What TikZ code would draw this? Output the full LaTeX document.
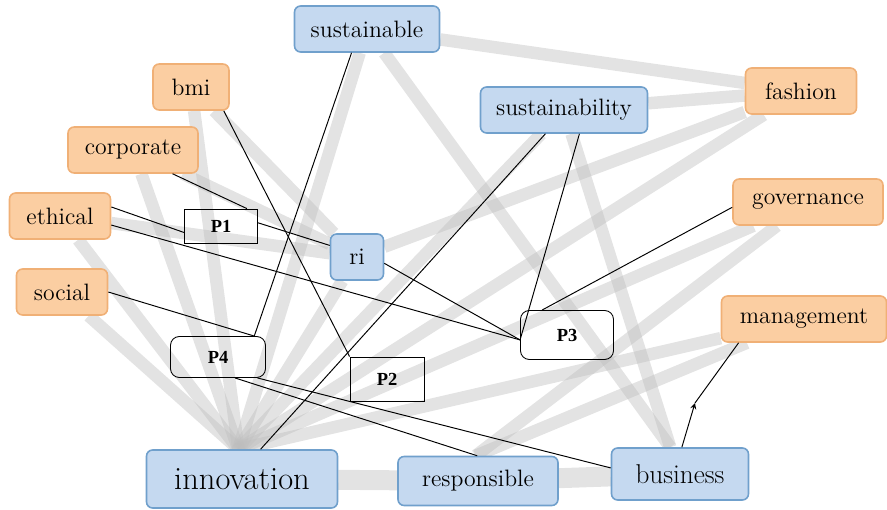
\documentclass[tikz,border=0pt]{standalone}
\usepackage{tikz}
\usetikzlibrary{arrows,positioning,backgrounds}
\usepackage{xcolor}
\usepackage{fontspec}
\newfontfamily\propfont{Liberation Serif}
\definecolor{kwblue}{RGB}{197,217,240}
\definecolor{kwblueline}{RGB}{112,160,204}
\definecolor{kworange}{RGB}{251,206,162}
\definecolor{kworangeline}{RGB}{240,176,118}
\tikzset{
  bluekw/.style={rectangle,rounded corners=3.5pt,draw=kwblueline,fill=kwblue,line width=0.9pt,minimum height=0.92cm,font=\fontsize{13.5}{15}\selectfont},
  orangekw/.style={rectangle,rounded corners=3.5pt,draw=kworangeline,fill=kworange,line width=0.9pt,minimum height=0.92cm,font=\fontsize{13.5}{15}\selectfont},
  prop/.style={rectangle,draw=black,line width=0.5pt,font=\propfont\fontsize{10.5}{12}\selectfont\bfseries},
  band/.style={line width=0.25cm,black!26,opacity=0.42},
  link/.style={black,line width=0.55pt}
}

\begin{document}
\begin{tikzpicture}[x=0.02cm,y=-0.02cm]
\useasboundingbox (0,0) rectangle (887,510);
% keywords
\node (sustainable) [bluekw,minimum width=2.9cm] at (367,29) {sustainable};
\node (sustainability) [bluekw,minimum width=3.34cm] at (564,110) {sustainability};
\node (ri) [bluekw,minimum width=1.06cm] at (357,257) {ri};
\node (innovation) [bluekw,minimum width=3.82cm,minimum height=1.16cm,font=\fontsize{18.5}{20}\selectfont] at (242,479) {innovation};
\node (responsible) [bluekw,minimum width=3.2cm,minimum height=0.98cm] at (478,481) {responsible};
\node (business) [bluekw,minimum width=2.74cm,minimum height=1.04cm,font=\fontsize{15.5}{17}\selectfont] at (680,474) {business};
\node (bmi) [orangekw,minimum width=1.52cm] at (191,87) {bmi};
\node (corporate) [orangekw,minimum width=2.6cm] at (133,150) {corporate};
\node (ethical) [orangekw,minimum width=2.02cm] at (60,216) {ethical};
\node (social) [orangekw,minimum width=1.82cm] at (62,292) {social};
\node (fashion) [orangekw,minimum width=2.22cm] at (801,91) {fashion};
\node (governance) [orangekw,minimum width=3.0cm] at (808,202) {governance};
\node (management) [orangekw,minimum width=3.3cm] at (804,319) {management};
% propositions
\node (P1) [prop,minimum width=1.46cm,minimum height=0.68cm] at (221,226) {P1};
\node (P2) [prop,minimum width=1.48cm,minimum height=0.88cm] at (387,379) {P2};
\node (P3) [prop,rounded corners=5pt,minimum width=1.86cm,minimum height=0.98cm] at (567,335) {P3};
\node (P4) [prop,rounded corners=5pt,minimum width=1.9cm,minimum height=0.82cm] at (218,357) {P4};
\coordinate (bend) at (695,403);
%
\begin{scope}[on background layer]
\foreach \kw in {social,ethical,corporate,bmi,sustainable,ri,sustainability,fashion,governance,management}
  \draw[band] (innovation.97) -- (\kw);
\draw[band,line width=0.4cm] (innovation) -- (responsible);
\draw[band,line width=0.4cm] (responsible) -- (business);
\foreach \kw in {sustainable,sustainability}
  \draw[band] (business.110) -- (\kw);
\foreach \kw in {ethical,corporate,bmi}
  \draw[band] (ri) -- (\kw);
\foreach \kw in {sustainable,sustainability,ri}
  \draw[band] (fashion) -- (\kw);
\draw[band] (responsible.95) -- (governance);
\draw[band] (responsible.95) -- (management);
\end{scope}
%
\draw[link] (corporate.-31) -- (P1.34);
\draw[link] (ethical.10) -- (P1.190);
\draw[link] (P1.5) -- (ri.157);
\draw[link] (ethical.-10) -- (P3.186);
\draw[link] (ri.-13) -- (P3.186);
\draw[link] (bmi.-36) -- (P2.north west);
\draw[link] (sustainable.-123) -- (P4.30);
\draw[link] (social.east) -- (P4.30);
\draw[link] (sustainability.-128) -- (innovation.58);
\draw[link] (sustainability.-57) -- (P3.186);
\draw[link] (governance.184) -- (P3.135);
\draw[link] (P4.-51) -- (responsible.92);
\draw[link] (P4.-28) -- (business.175);
\draw[link,-stealth] (business.86) -- (bend);
\draw[link] (bend) -- (management.200);
\end{tikzpicture}
\end{document}
